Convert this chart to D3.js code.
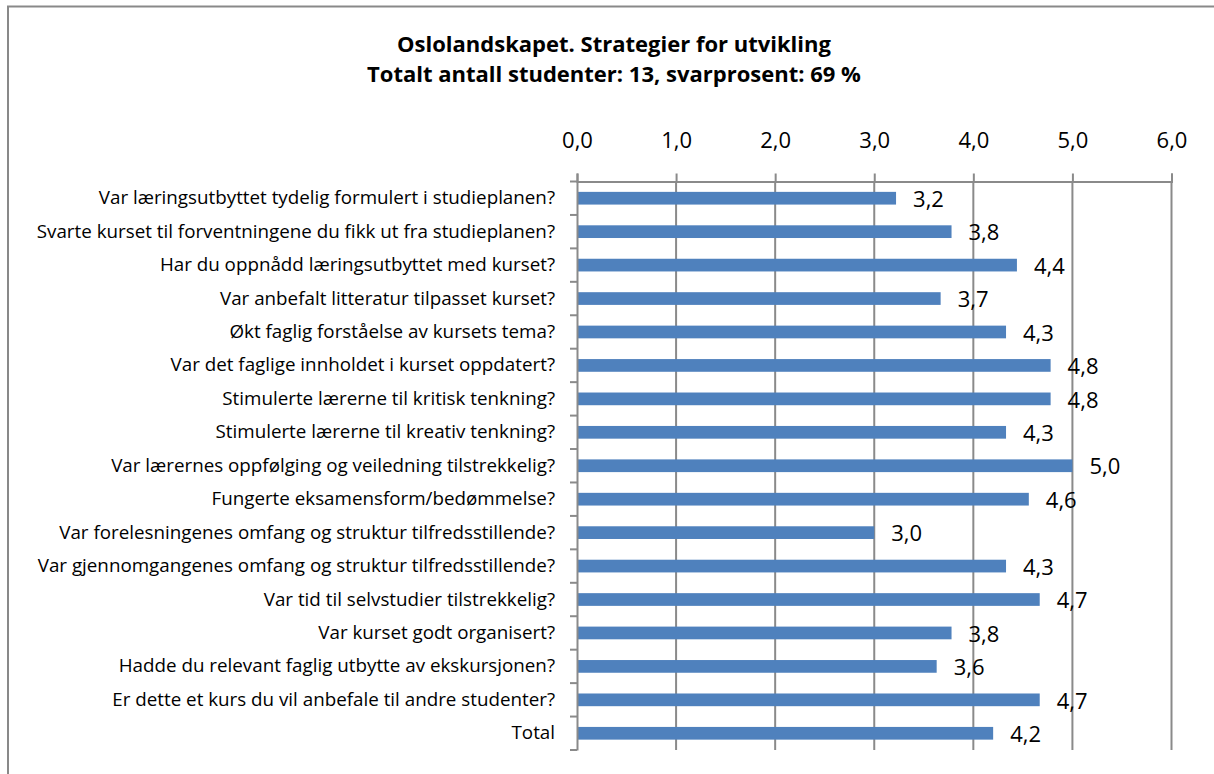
<!DOCTYPE html>
<html>
<head>
<meta charset="utf-8">
<script src="https://cdn.jsdelivr.net/npm/d3@7"></script>
<style>
    body { margin: 0; background: #fff; }
    text { font-family: "Open Sans", sans-serif; fill: #000; }
</style>
</head>
<body>
<div id="chart"></div>
<script>
const titleLines = [
    "Oslolandskapet. Strategier for utvikling",
    "Totalt antall studenter: 13, svarprosent: 69 %"
];

const questions = [
    "Var læringsutbyttet tydelig formulert i studieplanen?",
    "Svarte kurset til forventningene du fikk ut fra studieplanen?",
    "Har du oppnådd læringsutbyttet med kurset?",
    "Var anbefalt litteratur tilpasset kurset?",
    "Økt faglig forståelse av kursets tema?",
    "Var det faglige innholdet i kurset oppdatert?",
    "Stimulerte lærerne til kritisk tenkning?",
    "Stimulerte lærerne til kreativ tenkning?",
    "Var lærernes oppfølging og veiledning tilstrekkelig?",
    "Fungerte eksamensform/bedømmelse?",
    "Var forelesningenes omfang og struktur tilfredsstillende?",
    "Var gjennomgangenes omfang og struktur tilfredsstillende?",
    "Var tid til selvstudier tilstrekkelig?",
    "Var kurset godt organisert?",
    "Hadde du relevant faglig utbytte av ekskursjonen?",
    "Er dette et kurs du vil anbefale til andre studenter?",
    "Total"
];

// mean scores; labels show one decimal
const scores = [3.22, 3.78, 4.44, 3.67, 4.33, 4.78, 4.78, 4.33, 5.0, 4.56, 3.0, 4.33, 4.67, 3.78, 3.63, 4.67, 4.2];

const xTicks = [0, 1, 2, 3, 4, 5, 6];

const width = 1214, height = 774;
const margin = { top: 181.5, right: 42.5, bottom: 24, left: 577 };
const gridColor = "#8a8a8a";
const barColor = "#4f81bd";

const fmt = v => v.toFixed(1).replace(".", ",");

const svg = d3.select("#chart").append("svg")
    .attr("width", width)
    .attr("height", height);

// outer frame (right and bottom edges fall outside the picture)
svg.append("rect")
    .attr("x", 8).attr("y", 6.5)
    .attr("width", width + 20).attr("height", height + 20)
    .attr("fill", "none")
    .attr("stroke", "#898989")
    .attr("stroke-width", 2);

svg.selectAll(".title")
    .data(titleLines)
    .join("text")
    .attr("class", "title")
    .attr("x", 614)
    .attr("y", (d, i) => 52 + i * 30)
    .attr("text-anchor", "middle")
    .style("font-weight", "bold")
    .style("font-size", "22px")
    .text(d => d);

const x = d3.scaleLinear()
    .domain([0, 6])
    .range([margin.left, width - margin.right]);

const y = d3.scaleBand()
    .domain(questions)
    .range([margin.top, height - margin.bottom])
    .paddingInner(0.62)
    .paddingOuter(0.31);

const band = y.step();

// vertical gridlines
svg.append("g")
    .selectAll("line")
    .data(xTicks.slice(1))
    .join("line")
    .attr("x1", d => x(d)).attr("x2", d => x(d))
    .attr("y1", margin.top).attr("y2", height - margin.bottom)
    .attr("stroke", gridColor)
    .attr("stroke-width", 2);

// top value axis
const xAxis = svg.append("g")
    .attr("transform", `translate(0,${margin.top})`)
    .call(d3.axisTop(x).tickValues(xTicks).tickFormat(fmt).tickSize(8).tickPadding(26));
xAxis.select(".domain").attr("stroke", gridColor).attr("stroke-width", 2);
xAxis.selectAll(".tick line").attr("stroke", gridColor).attr("stroke-width", 2);
xAxis.selectAll(".tick text")
    .style("font-size", "22px")
    .style("font-family", "'Open Sans', sans-serif")
    .attr("fill", "#000");

// bars
svg.append("g")
    .selectAll("rect")
    .data(scores)
    .join("rect")
    .attr("x", x(0))
    .attr("y", (d, i) => y(questions[i]))
    .attr("width", d => x(d) - x(0))
    .attr("height", y.bandwidth())
    .attr("fill", barColor);

// category axis on the left
const yAxis = svg.append("g")
    .attr("transform", `translate(${margin.left},0)`)
    .call(d3.axisLeft(y).tickSize(0).tickPadding(22));
yAxis.select(".domain").attr("stroke", gridColor).attr("stroke-width", 2);
yAxis.selectAll(".tick text")
    .style("font-size", "18.8px")
    .style("font-family", "'Open Sans', sans-serif")
    .attr("fill", "#000");

// category separators
svg.append("g")
    .selectAll("line")
    .data(d3.range(questions.length + 1))
    .join("line")
    .attr("x1", margin.left - 7).attr("x2", margin.left)
    .attr("y1", i => margin.top + i * band)
    .attr("y2", i => margin.top + i * band)
    .attr("stroke", gridColor)
    .attr("stroke-width", 2);

// value labels
svg.append("g")
    .selectAll("text")
    .data(scores)
    .join("text")
    .attr("x", d => x(d) + 17)
    .attr("y", (d, i) => y(questions[i]) + y.bandwidth() / 2 + 1)
    .attr("dy", "0.35em")
    .style("font-size", "22px")
    .text(fmt);
</script>
</body>
</html>
